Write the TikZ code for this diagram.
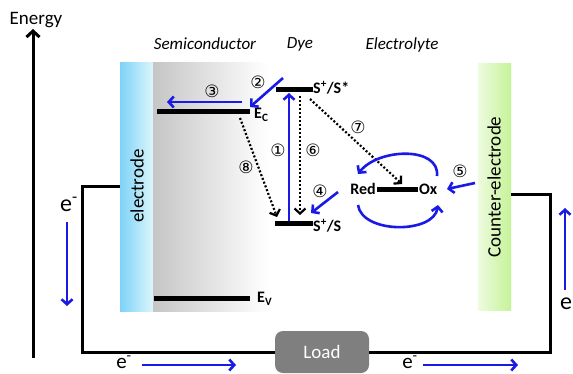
\documentclass[tikz,border=0pt]{standalone}
\usepackage{fontspec}
\setmainfont{Carlito}
\newfontfamily\circfont{DejaVu Sans}
\usetikzlibrary{arrows.meta,calc}
\definecolor{flowblue}{HTML}{1A1AE6}
\definecolor{elecblue}{HTML}{7CD3F7}
\definecolor{elecpale}{HTML}{DDF5FD}
\definecolor{cegreen}{HTML}{C4F397}
\definecolor{cepale}{HTML}{EEFBE0}
\definecolor{loadgray}{HTML}{7F7F7F}

\tikzset{
  axis/.style={line width=3pt,-{Straight Barb[length=6pt,width=13pt]}},
  lvl/.style={line width=5pt},
  wire/.style={line width=3pt},
  flow/.style={flowblue,line width=2.6pt,-{Straight Barb[length=5pt,width=11pt]}},
  back/.style={black,line width=2.2pt,dash pattern=on 2pt off 2pt,-{Straight Barb[length=5pt,width=11pt]}},
  num/.style={font=\circfont\fontsize{17}{17}\selectfont,inner sep=0pt},
  txt/.style={font=\fontsize{19}{20}\selectfont,inner sep=0pt},
  region/.style={font=\itshape\fontsize{17}{18}\selectfont,inner sep=0pt},
  lab/.style={font=\bfseries\fontsize{16}{18}\selectfont,inner sep=1pt},
  elab/.style={font=\fontsize{24}{24}\selectfont,inner sep=0pt},
  belab/.style={font=\fontsize{21}{21}\selectfont,inner sep=0pt},
  loadbox/.style={fill=loadgray,rounded corners=8pt,minimum width=94pt,minimum height=42pt,
    text=white,font=\fontsize{19}{20}\selectfont}
}

\begin{document}
\begin{tikzpicture}[x=1pt,y=-1pt]
  \useasboundingbox (0,0) rectangle (573,373);
  % Energy axis
  \coordinate (axbot) at (33,358);
  \coordinate (axtop) at (33,29);
  \draw[axis] (axbot) -- (axtop);
  \node[txt] (energy) at (36,20) {Energy};
  % Electrode, semiconductor, counter-electrode
  \shade[left color=elecblue,right color=elecpale] (120,62) rectangle (153,311);
  \shade[left color=gray!45,right color=white] (153,62) rectangle (268,311);
  \shade[left color=cepale,right color=cegreen] (478,63) rectangle (511,310);
  \node[txt,rotate=90] (electrode) at (137,186) {electrode};
  \node[txt,rotate=90] (counter) at (494,187) {Counter-electrode};
  \node[region] (semi) at (205,44) {Semiconductor};
  \node[region] (dye) at (300,44) {Dye};
  \node[region] (elyte) at (402,45) {Electrolyte};
  % Energy levels
  \coordinate (ecL) at (157,111);
  \coordinate (ecR) at (250,111);
  \draw[lvl] (ecL) -- (ecR);
  \node[lab,anchor=west] (ec) at (253,115) {E\textsubscript{C}};
  \coordinate (evL) at (154,298);
  \coordinate (evR) at (250,298);
  \draw[lvl] (evL) -- (evR);
  \node[lab,anchor=west] (ev) at (256,299) {E\textsubscript{V}};
  \coordinate (exL) at (276,89);
  \coordinate (exR) at (313,89);
  \draw[lvl] (exL) -- (exR);
  \node[lab,anchor=west] (sx) at (312,88) {S\textsuperscript{+}/S*};
  \coordinate (gsL) at (275,223);
  \coordinate (gsR) at (313,223);
  \draw[lvl] (gsL) -- (gsR);
  \node[lab,anchor=west] (gs) at (312,226) {S\textsuperscript{+}/S};
  \node[lab,anchor=east] (red) at (377,189) {Red};
  \node[lab,anchor=west] (ox) at (418,189) {Ox};
  \draw[lvl] (red.east) -- (ox.west);
  % Processes
  \coordinate (p1a) at (289,221);
  \coordinate (p1b) at (289,93);
  \draw[flow] (p1a) -- (p1b);
  \node[num] (n1) at (278,150) {①};
  \coordinate (p2a) at (283,78);
  \coordinate (p2b) at (250,107);
  \draw[flow] (p2a) -- (p2b);
  \node[num] (n2) at (258,82) {②};
  \coordinate (p3a) at (242,102);
  \coordinate (p3b) at (167,102);
  \draw[flow] (p3a) -- (p3b);
  \node[num] (n3) at (212,91) {③};
  \coordinate (p4a) at (338,192);
  \coordinate (p4b) at (311,213);
  \draw[flow] (p4a) -- (p4b);
  \node[num] (n4) at (320,191) {④};
  \coordinate (p5a) at (475,183);
  \coordinate (p5b) at (447,189);
  \draw[flow] (p5a) -- (p5b);
  \node[num] (n5) at (460,171) {⑤};
  \coordinate (p6a) at (300,96);
  \coordinate (p6b) at (300,215);
  \draw[back] (p6a) -- (p6b);
  \node[num] (n6) at (313,150) {⑥};
  \coordinate (p7a) at (310,99);
  \coordinate (p7b) at (402,184);
  \draw[back] (p7a) -- (p7b);
  \node[num] (n7) at (358,127) {⑦};
  \coordinate (p8a) at (240,118);
  \coordinate (p8b) at (277,217);
  \draw[back] (p8a) -- (p8b);
  \node[num] (n8) at (246,167) {⑧};
  % Redox cycle
  \coordinate (cyc1) at (437,176);
  \coordinate (cyc2) at (358,174);
  \coordinate (cyc3) at (358,205);
  \coordinate (cyc4) at (438,205);
  \draw[flow] (cyc1) .. controls (440,146) and (378,148) .. (cyc2);
  \draw[flow] (cyc3) .. controls (362,234) and (434,234) .. (cyc4);
  % Circuit
  \coordinate (elecW) at (120,186);
  \coordinate (ceE) at (511,194);
  \node[loadbox] (load) at (322,352) {Load};
  \draw[wire] (elecW) -| (82,352) -- (load.west);
  \draw[wire] (load.east) -| (550,194) -- (ceE);
  % Electron flow
  \node[elab] (e1) at (69,204) {e\textsuperscript{-}};
  \coordinate (e1a) at (67,222);
  \coordinate (e1b) at (67,306);
  \draw[flow] (e1a) -- (e1b);
  \node[belab] (e2) at (124,362) {e\textsuperscript{-}};
  \coordinate (e2a) at (142,365);
  \coordinate (e2b) at (236,365);
  \draw[flow] (e2a) -- (e2b);
  \node[belab] (e3) at (410,362) {e\textsuperscript{-}};
  \coordinate (e3a) at (423,365);
  \coordinate (e3b) at (518,365);
  \draw[flow] (e3a) -- (e3b);
  \node[elab] (e4) at (566,304) {e};
  \coordinate (e4a) at (565,290);
  \coordinate (e4b) at (565,208);
  \draw[flow] (e4a) -- (e4b);
\end{tikzpicture}
\end{document}
